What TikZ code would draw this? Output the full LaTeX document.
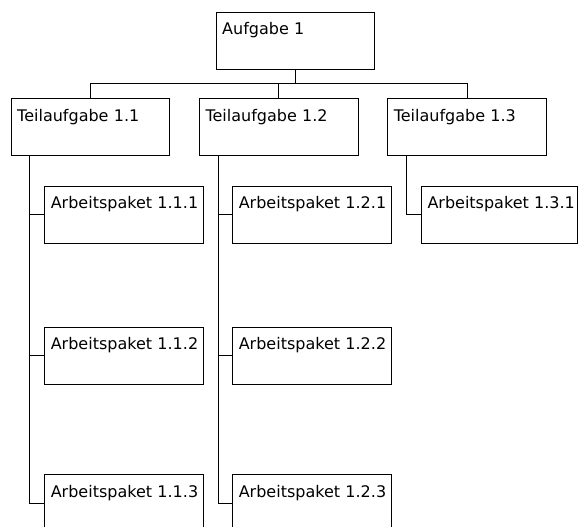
\documentclass[tikz,border=0pt]{standalone}
\usepackage{fontspec}
\setmainfont{DejaVu Sans}
\begin{document}
\begin{tikzpicture}[x=1pt,y=-1pt,
  box/.style={draw=black, line width=1pt, rectangle, anchor=north west,
    minimum width=158.7pt, minimum height=57pt, inner xsep=6pt, inner ysep=6pt,
    text width=146.7pt, align=left, text height=16.3pt, text depth=28.7pt,
    font=\fontsize{16}{19}\selectfont},
  conn/.style={draw=black, line width=1pt}]
\useasboundingbox (0,0) rectangle (578,527);
\node[box] (A) at (215.7,11.7) {\mbox{Aufgabe 1}};
\node[box] (T11) at (10.7,98.3) {\mbox{Teilaufgabe 1.1}};
\node[box] (T12) at (199,98.3) {\mbox{Teilaufgabe 1.2}};
\node[box] (T13) at (387.3,98.3) {\mbox{Teilaufgabe 1.3}};
\node[box] (P111) at (44.3,185.7) {\mbox{Arbeitspaket 1.1.1}};
\node[box] (P112) at (44.3,326.7) {\mbox{Arbeitspaket 1.1.2}};
\node[box] (P113) at (44.3,474.3) {\mbox{Arbeitspaket 1.1.3}};
\node[box] (P121) at (232.3,185.7) {\mbox{Arbeitspaket 1.2.1}};
\node[box] (P122) at (232.3,326.7) {\mbox{Arbeitspaket 1.2.2}};
\node[box] (P123) at (232.3,474.3) {\mbox{Arbeitspaket 1.2.3}};
\node[box, minimum width=155.8pt, text width=143.8pt] (P131) at (421,185.7) {\mbox{Arbeitspaket 1.3.1}};
\coordinate (bus) at (0,83.3);
\coordinate (s11) at (29.7,155);
\coordinate (s12) at (218.3,155);
\coordinate (s13) at (406.7,155);
\draw[conn] (A.south) -- (A.south |- bus);
\draw[conn] (T11.north) |- (T13.north |- bus) -- (T13.north);
\draw[conn] (T12.north) -- (T12.north |- bus);
\draw[conn] (s11) |- (P113.west);
\draw[conn] (P111.west) -- (P111.west -| s11);
\draw[conn] (P112.west) -- (P112.west -| s11);
\draw[conn] (s12) |- (P123.west);
\draw[conn] (P121.west) -- (P121.west -| s12);
\draw[conn] (P122.west) -- (P122.west -| s12);
\draw[conn] (s13) |- (P131.west);
\end{tikzpicture}
\end{document}
